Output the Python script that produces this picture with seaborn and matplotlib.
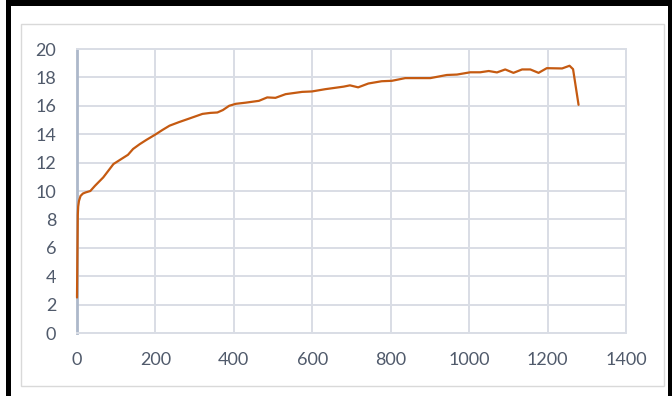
import matplotlib
matplotlib.use("Agg")
import matplotlib.pyplot as plt
from matplotlib.patches import Rectangle
import seaborn as sns
import pandas as pd

# Measured curve: elapsed time vs. value
time = [0, 1, 2, 3, 5, 9, 15, 22, 34, 46, 67, 93, 110, 130, 143, 160, 177,
        200, 218, 236, 260, 287, 320, 340, 358, 372, 388, 405, 430, 464, 485,
        506, 532, 574, 599, 633, 654, 680, 696, 717, 743, 777, 803, 837, 870,
        901, 943, 969, 1003, 1028, 1050, 1071, 1092, 1113, 1135, 1156, 1177,
        1198, 1237, 1256, 1265, 1279]
value = [2.5, 5.5, 8.3, 8.9, 9.3, 9.65, 9.82, 9.9, 10.0, 10.37, 10.96, 11.9,
         12.2, 12.55, 12.96, 13.3, 13.6, 13.98, 14.3, 14.6, 14.85, 15.11,
         15.43, 15.5, 15.53, 15.7, 16.0, 16.14, 16.22, 16.35, 16.59, 16.56,
         16.82, 16.98, 17.01, 17.17, 17.25, 17.35, 17.44, 17.3, 17.57, 17.73,
         17.76, 17.95, 17.95, 17.95, 18.17, 18.2, 18.36, 18.36, 18.45, 18.35,
         18.56, 18.32, 18.56, 18.56, 18.32, 18.65, 18.63, 18.82, 18.58, 16.07]

x_ticks = [0, 200, 400, 600, 800, 1000, 1200, 1400]
y_ticks = [0, 2, 4, 6, 8, 10, 12, 14, 16, 18, 20]

df = pd.DataFrame({"time": time, "value": value})

sns.set_style("white")
plt.rcParams["font.family"] = ["Lato", "DejaVu Sans"]

W, H = 672, 396
fig = plt.figure(figsize=(W / 100, H / 100), dpi=100)
fig.patch.set_facecolor("white")

# chart-area frame
fig.add_artist(Rectangle((21 / W, 1 - 386 / H), (664 - 21) / W, (386 - 24) / H,
                         transform=fig.transFigure, fill=False,
                         edgecolor="#d9d9d9", lw=1.0, zorder=0))
# black border strips
fig.add_artist(Rectangle((6 / W, 1 - 6 / H), 1 - 6 / W, 6 / H,
                         transform=fig.transFigure, color="black", lw=0))
fig.add_artist(Rectangle((6 / W, 0), 5 / W, 1,
                         transform=fig.transFigure, color="black", lw=0))
fig.add_artist(Rectangle((668 / W, 0), 4 / W, 1,
                         transform=fig.transFigure, color="black", lw=0))

ax = fig.add_axes([77 / W, 1 - 333 / H, (626 - 77) / W, (333 - 49) / H])

grid_col = "#d9dde5"
sns.lineplot(data=df, x="time", y="value", ax=ax, sort=False,
             color="#c55a11", lw=1.6, zorder=5)
for ln in ax.get_lines():
    ln.set_clip_on(False)
    ln.set_solid_joinstyle("round")

ax.set_xlim(0, 1400)
ax.set_ylim(0, 20)
ax.set_xticks(x_ticks)
ax.set_yticks(y_ticks)
ax.set_xticklabels([str(t) for t in x_ticks])
ax.set_yticklabels([str(t) for t in y_ticks])
ax.grid(True, color=grid_col, lw=1.4)
ax.set_axisbelow(True)
ax.set_xlabel("")
ax.set_ylabel("")

for side in ["top", "right", "bottom"]:
    ax.spines[side].set_visible(True)
    ax.spines[side].set_color(grid_col)
    ax.spines[side].set_linewidth(1.4)
ax.spines["left"].set_color("#adb8ca")
ax.spines["left"].set_linewidth(2.0)
ax.spines["left"].set_zorder(2.5)

ax.tick_params(axis="both", length=0, labelsize=13, labelcolor="#505a6b")
ax.tick_params(axis="x", pad=14)
ax.tick_params(axis="y", pad=15)

fig.savefig("out.png", dpi=100)
